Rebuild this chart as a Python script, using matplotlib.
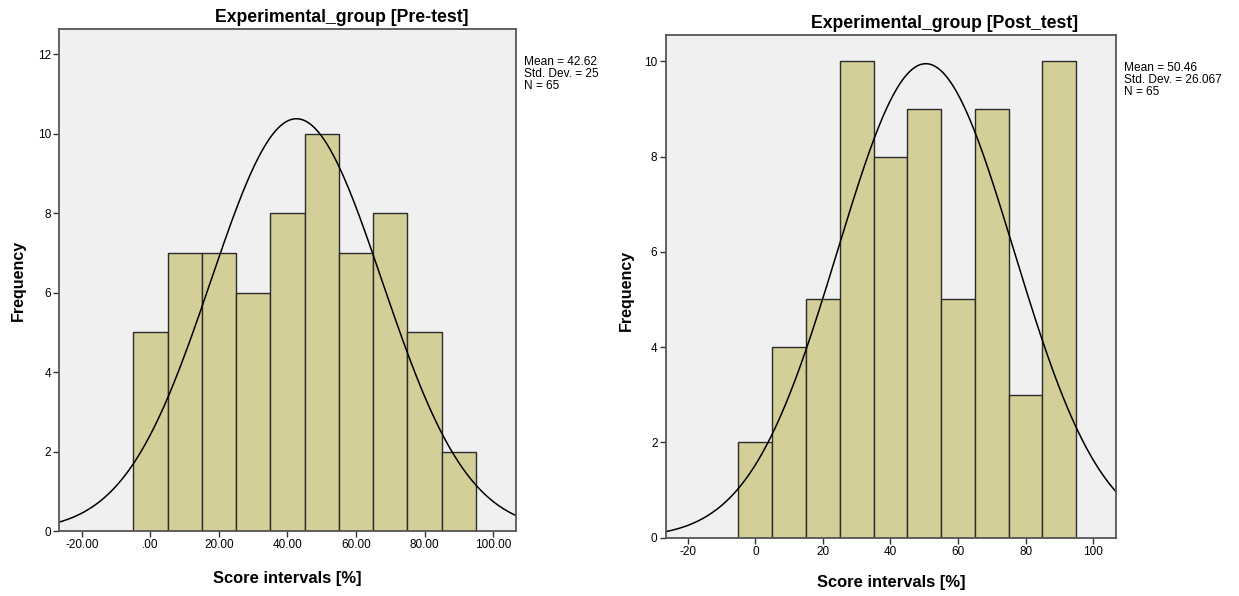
import numpy as np
import matplotlib
matplotlib.use("Agg")
import matplotlib.pyplot as plt

plt.rcParams['font.family'] = ['Liberation Sans', 'DejaVu Sans']

# histogram bins (score intervals, %)
bin_edges = [-5, 5, 15, 25, 35, 45, 55, 65, 75, 85, 95]
pre_counts = [5, 7, 7, 6, 8, 10, 7, 8, 5, 2]
post_counts = [2, 4, 5, 10, 8, 9, 5, 9, 3, 10]

pre_mean, pre_sd, pre_n = 42.62, 25, 65
post_mean, post_sd, post_n = 50.46, 26.067, 65

pre_xticks = [-20, 0, 20, 40, 60, 80, 100]
pre_xlabels = ["-20.00", ".00", "20.00", "40.00", "60.00", "80.00", "100.00"]
post_xticks = [-20, 0, 20, 40, 60, 80, 100]
post_xlabels = ["-20", "0", "20", "40", "60", "80", "100"]

bar_color = "#d4cf98"
bg = "#f0f0f0"

W, H = 1239, 596
fig = plt.figure(figsize=(W / 100, H / 100), dpi=100)


def panel(box, counts, mean, sd, n, xticks, xlabels, xlim, ylim, yticks,
          title, title_xy, stats_xy, ylab_xy, xlab_xy):
    # box = (left, top, right, bottom) in pixels
    l, t, r, b = box
    ax = fig.add_axes([l / W, 1 - b / H, (r - l) / W, (b - t) / H])
    ax.set_facecolor(bg)
    lefts = bin_edges[:-1]
    widths = np.diff(bin_edges)
    ax.bar(lefts, counts, width=widths, align='edge', color=bar_color,
           edgecolor="#2b2b2b", linewidth=1.0)
    xs = np.linspace(-30, 110, 400)
    bw = widths[0]
    ys = n * bw / (sd * np.sqrt(2 * np.pi)) * np.exp(-0.5 * ((xs - mean) / sd) ** 2)
    ax.plot(xs, ys, color="black", lw=1.1)
    ax.set_xlim(*xlim)
    ax.set_ylim(0, ylim)
    ax.set_xticks(xticks)
    ax.set_xticklabels(xlabels)
    ax.set_yticks(yticks)
    ax.tick_params(axis='both', labelsize=8.5, length=4, width=1, color="#333333",
                   direction='out', pad=2)
    for s in ax.spines.values():
        s.set_color("#555555")
        s.set_linewidth(1.3)
    fig.text(title_xy[0] / W, 1 - title_xy[1] / H, title, ha='center', va='center',
             fontsize=12.7, fontweight='bold')
    fig.text(stats_xy[0] / W, 1 - stats_xy[1] / H,
             "Mean = %s\nStd. Dev. = %s\nN = %d" % (mean, sd, n),
             ha='left', va='top', fontsize=8.6, linespacing=1.0)
    fig.text(ylab_xy[0] / W, 1 - ylab_xy[1] / H, "Frequency", rotation=90,
             ha='center', va='center', fontsize=11.5, fontweight='bold')
    fig.text(xlab_xy[0] / W, 1 - xlab_xy[1] / H, "Score intervals [%]",
             ha='center', va='center', fontsize=11.9, fontweight='bold')
    return ax


panel((59.3, 29, 516, 531), pre_counts, pre_mean, pre_sd, pre_n,
      pre_xticks, pre_xlabels, (-26.6, 106.7), 12.63, [0, 2, 4, 6, 8, 10, 12],
      "Experimental_group [Pre-test]", (342, 17), (524, 56),
      (18, 280), (287.5, 578))

panel((665.8, 35, 1116.1, 537.7), post_counts, post_mean, post_sd, post_n,
      post_xticks, post_xlabels, (-26.5, 106.8), 10.55, [0, 2, 4, 6, 8, 10],
      "Experimental_group [Post_test]", (944.7, 23), (1124, 62),
      (626, 290), (891, 583))

fig.savefig("out.png", dpi=100, facecolor="white")
